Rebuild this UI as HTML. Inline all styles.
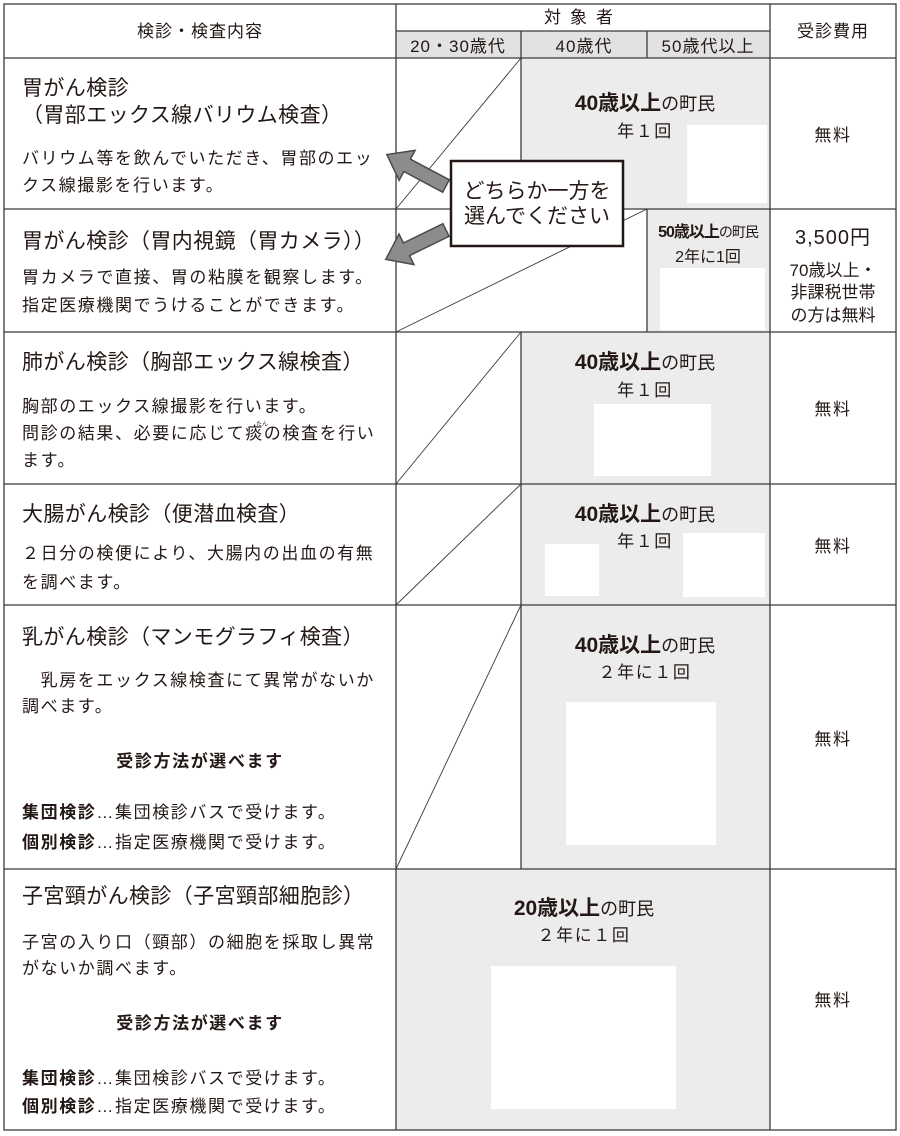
<!DOCTYPE html>
<html><head><meta charset="utf-8"><style>
html,body{margin:0;padding:0;background:#fff;}
svg{display:block;font-family:"Liberation Sans","Noto Sans CJK JP",sans-serif;}
text{fill:#231815;}
.t{font-size:21px;letter-spacing:0.4px;}
.b{font-size:17px;letter-spacing:1.6px;}
.c{text-anchor:middle;}
.h{font-size:17px;letter-spacing:1px;}
.bd{font-weight:bold;}
</style></head><body>
<svg width="900" height="1136" viewBox="0 0 900 1136">
<g fill="#ebeceb">
<rect x="396" y="31" width="374" height="27" fill="#e2e2e2"/>
<rect x="521" y="58" width="249" height="151"/>
<rect x="647" y="209" width="123" height="123"/>
<rect x="521" y="332" width="249" height="152"/>
<rect x="521" y="484" width="249" height="121"/>
<rect x="521" y="605" width="249" height="264"/>
<rect x="396" y="869" width="374" height="261"/>
</g>
<g fill="#fff">
<rect x="687" y="125" width="80" height="78"/>
<rect x="660" y="268" width="105" height="62"/>
<rect x="594" y="404" width="117" height="72"/>
<rect x="545" y="544" width="54" height="52"/>
<rect x="683" y="533" width="82" height="64"/>
<rect x="566" y="702" width="150" height="143"/>
<rect x="491" y="966" width="185" height="143"/>
</g>
<g stroke="#3e3a39" stroke-width="1.3" fill="none">
<rect x="4" y="4" width="892" height="1126"/>
<line x1="396" y1="4" x2="396" y2="1130"/>
<line x1="770" y1="4" x2="770" y2="1130"/>
<line x1="396" y1="31" x2="770" y2="31"/>
<line x1="521" y1="31" x2="521" y2="209"/>
<line x1="647" y1="31" x2="647" y2="58"/>
<line x1="647" y1="209" x2="647" y2="332"/>
<line x1="521" y1="332" x2="521" y2="869"/>
<line x1="4" y1="58" x2="896" y2="58"/>
<line x1="4" y1="209" x2="896" y2="209"/>
<line x1="4" y1="332" x2="896" y2="332"/>
<line x1="4" y1="484" x2="896" y2="484"/>
<line x1="4" y1="605" x2="896" y2="605"/>
<line x1="4" y1="869" x2="896" y2="869"/>
</g>
<g stroke="#3e3a39" stroke-width="0.9">
<line x1="396" y1="209" x2="521" y2="58"/>
<line x1="396" y1="332" x2="647" y2="209"/>
<line x1="396" y1="484" x2="521" y2="332"/>
<line x1="396" y1="605" x2="521" y2="484"/>
<line x1="396" y1="869" x2="521" y2="605"/>
</g>
<text class="h c" x="200" y="37">検診・検査内容</text>
<text class="h c" x="583" y="23" style="letter-spacing:9px">対象者</text>
<text class="h c" x="833" y="37">受診費用</text>
<text class="h c" x="458" y="52">20・30歳代</text>
<text class="h c" x="584" y="52">40歳代</text>
<text class="h c" x="708" y="52">50歳代以上</text>
<text class="t" x="22" y="95">胃がん検診</text>
<text class="t" x="22" y="122">（胃部エックス線バリウム検査）</text>
<text class="b" x="22" y="164">バリウム等を飲んでいただき、胃部のエッ</text>
<text class="b" x="22" y="191">クス線撮影を行います。</text>
<text class="t" x="22" y="248">胃がん検診（胃内視鏡（胃カメラ））</text>
<text class="b" x="22" y="283">胃カメラで直接、胃の粘膜を観察します。</text>
<text class="b" x="22" y="311">指定医療機関でうけることができます。</text>
<text class="t" x="22" y="369">肺がん検診（胸部エックス線検査）</text>
<text class="b" x="22" y="412">胸部のエックス線撮影を行います。</text>
<text class="b" x="22" y="439">問診の結果、必要に応じて痰の検査を行い</text>
<text style="font-size:6px" x="256" y="426">たん</text>
<text class="b" x="22" y="466">ます。</text>
<text class="t" x="22" y="521">大腸がん検診（便潜血検査）</text>
<text class="b" x="22" y="559">２日分の検便により、大腸内の出血の有無</text>
<text class="b" x="22" y="588">を調べます。</text>
<text class="t" x="22" y="644">乳がん検診（マンモグラフィ検査）</text>
<text class="b" x="22" y="686">　乳房をエックス線検査にて異常がないか</text>
<text class="b" x="22" y="712">調べます。</text>
<text class="b c bd" x="200" y="767">受診方法が選べます</text>
<text class="b" x="22" y="818"><tspan class="bd">集団検診</tspan>…集団検診バスで受けます。</text>
<text class="b" x="22" y="848"><tspan class="bd">個別検診</tspan>…指定医療機関で受けます。</text>
<text class="t" x="22" y="903">子宮頸がん検診（子宮頸部細胞診）</text>
<text class="b" x="22" y="948">子宮の入り口（頸部）の細胞を採取し異常</text>
<text class="b" x="22" y="974">がないか調べます。</text>
<text class="b c bd" x="200" y="1029">受診方法が選べます</text>
<text class="b" x="22" y="1084"><tspan class="bd">集団検診</tspan>…集団検診バスで受けます。</text>
<text class="b" x="22" y="1112"><tspan class="bd">個別検診</tspan>…指定医療機関で受けます。</text>
<text class="c" x="645" y="110"><tspan class="bd" style="font-size:21px">40歳以上</tspan><tspan style="font-size:18px">の町民</tspan></text>
<text class="c b" x="645" y="137">年１回</text>
<text class="c" x="708" y="237" style="letter-spacing:-1px"><tspan class="bd" style="font-size:16px">50歳以上</tspan><tspan style="font-size:14px">の町民</tspan></text>
<text class="c" x="708" y="262" style="font-size:16px">2年に1回</text>
<text class="c" x="645" y="369"><tspan class="bd" style="font-size:21px">40歳以上</tspan><tspan style="font-size:18px">の町民</tspan></text>
<text class="c b" x="645" y="396">年１回</text>
<text class="c" x="645" y="521"><tspan class="bd" style="font-size:21px">40歳以上</tspan><tspan style="font-size:18px">の町民</tspan></text>
<text class="c b" x="645" y="547">年１回</text>
<text class="c" x="645" y="652"><tspan class="bd" style="font-size:21px">40歳以上</tspan><tspan style="font-size:18px">の町民</tspan></text>
<text class="c b" x="645" y="678">２年に１回</text>
<text class="c" x="584" y="915"><tspan class="bd" style="font-size:21px">20歳以上</tspan><tspan style="font-size:18px">の町民</tspan></text>
<text class="c b" x="584" y="941">２年に１回</text>
<text class="b c" x="833" y="141">無料</text>
<text class="c" x="833" y="244" style="font-size:20px;letter-spacing:1px">3,500円</text>
<text class="c" x="833" y="276" style="font-size:17px">70歳以上・</text>
<text class="c" x="833" y="298" style="font-size:17px">非課税世帯</text>
<text class="c" x="833" y="321" style="font-size:17px">の方は無料</text>
<text class="b c" x="833" y="415">無料</text>
<text class="b c" x="833" y="552">無料</text>
<text class="b c" x="833" y="745">無料</text>
<text class="b c" x="833" y="1006">無料</text>
<g fill="#8c8c8c" stroke="#4a4a4a" stroke-width="1.5">
<polygon transform="translate(446,186) rotate(28)" points="0,-7 -44,-7 -44,-17 -67,0 -44,17 -44,7 0,7"/>
<polygon transform="translate(446,230) rotate(-26)" points="0,-7 -44,-7 -44,-17 -67,0 -44,17 -44,7 0,7"/>
</g>
<rect x="451" y="161" width="172" height="85" fill="#fff" stroke="#231815" stroke-width="2.5"/>
<text class="c" x="537" y="198" style="font-size:21px">どちらか一方を</text>
<text class="c" x="537" y="223" style="font-size:21px">選んでください</text>
</svg>
</body></html>
